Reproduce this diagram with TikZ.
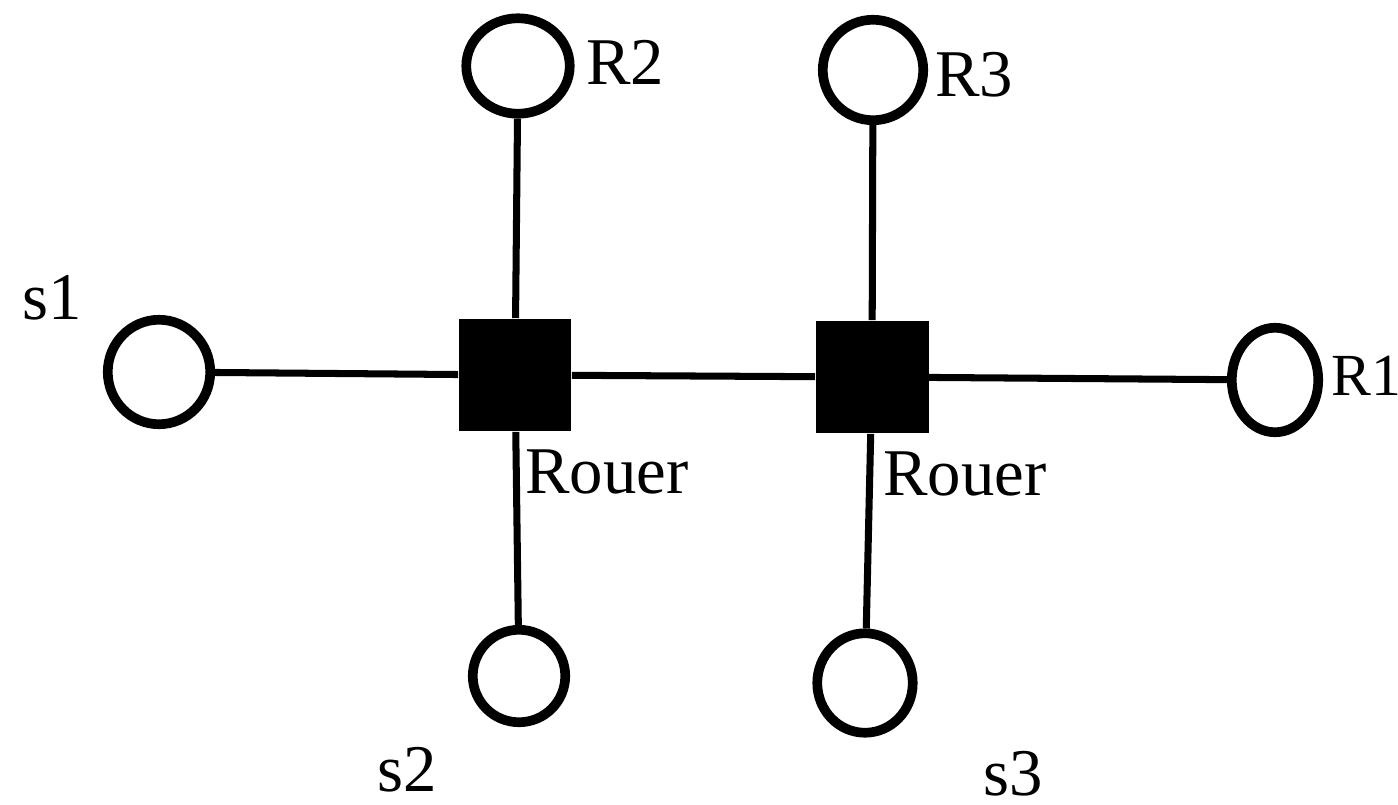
\documentclass[tikz,border=0pt]{standalone}
\usepackage{fontspec}
\setmainfont{Liberation Serif}
\usetikzlibrary{shapes.geometric}

\tikzset{
	host/.style={draw, ellipse, line width=5.5pt, inner sep=0pt},
	router/.style={fill=black, rectangle, inner sep=0pt, minimum size=2.26cm},
	link/.style={line width=4pt},
	lbl/.style={font=\fontsize{38}{44}\selectfont, inner sep=0pt}
}

\begin{document}
\begin{tikzpicture}[x=0.02cm, y=-0.02cm]
		\useasboundingbox (0,0) rectangle (1398,804);
		
		% Routers
		\node[router] (ra) at (515,375) {};
		\node[router] (rb) at (872,377) {};
		
		% Senders and receivers
		\node[host, minimum width=2.05cm, minimum height=2.09cm] (s1) at (159,372) {};
		\node[host, minimum width=1.85cm, minimum height=1.85cm] (s2) at (519,676) {};
		\node[host, minimum width=1.91cm, minimum height=1.99cm] (s3) at (865,683) {};
		\node[host, minimum width=1.73cm, minimum height=2.09cm] (r1) at (1275,380) {};
		\node[host, minimum width=2.07cm, minimum height=1.91cm] (r2) at (518,66) {};
		\node[host, minimum width=2.01cm, minimum height=2.01cm] (r3) at (873,70) {};
		
		% Links
		\draw[link] (s1) -- (ra);
		\draw[link] (ra) -- (rb);
		\draw[link] (rb) -- (r1);
		\draw[link] (r2) -- (ra);
		\draw[link] (ra) -- (s2);
		\draw[link] (r3) -- (rb);
		\draw[link] (rb) -- (s3);
		
		% Labels
		\node[lbl] (ls1) at (52,298) {s1};
		\node[lbl] (ls2) at (407,770) {s2};
		\node[lbl, anchor=west] (ls3) at (983,774) {s3};
		\node[lbl] (lr2) at (625,62) {R2};
		\node[lbl] (lr3) at (974,75) {R3};
		\node[lbl, anchor=west, font=\fontsize{34}{40}\selectfont] (lr1) at (1331,376) {R1};
		\node[lbl, anchor=west] (lra) at (525,472) {Rouer};
		\node[lbl, anchor=west] (lrb) at (883,474) {Rouer};
		
	\end{tikzpicture}
\end{document}
